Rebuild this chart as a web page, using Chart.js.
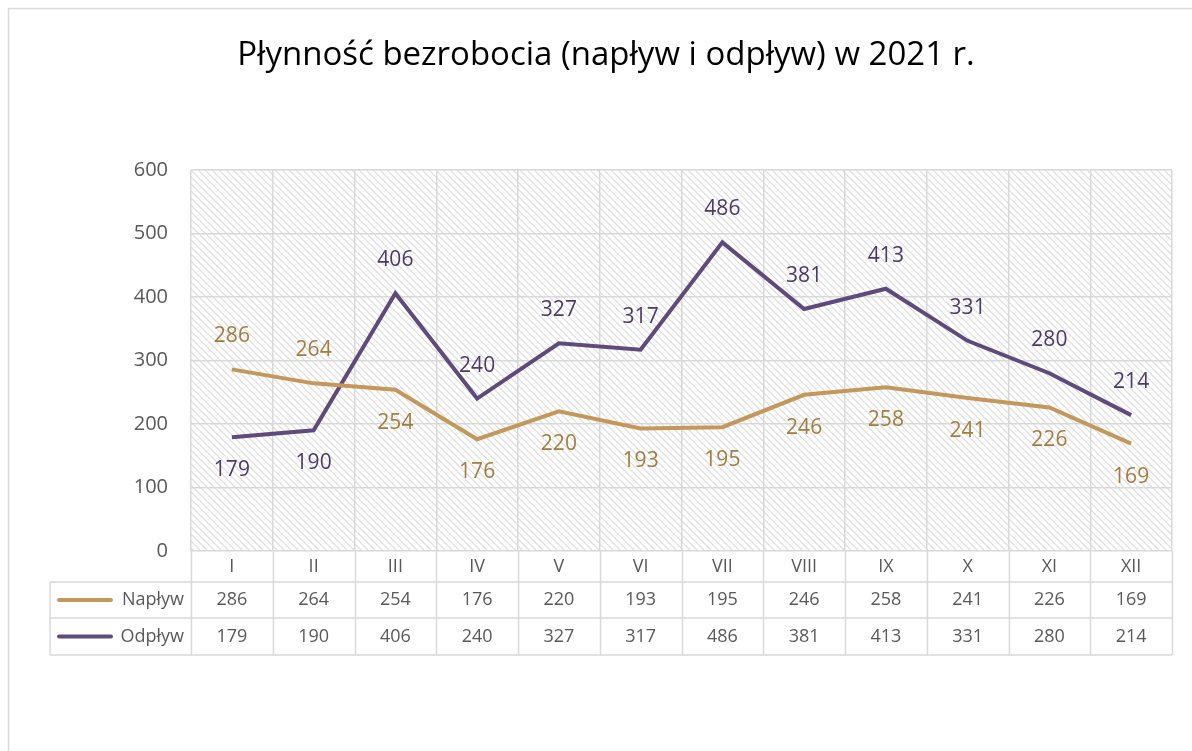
<!DOCTYPE html>
<html>
<head>
<meta charset="utf-8">
<script src="https://cdn.jsdelivr.net/npm/chart.js@4/dist/chart.umd.min.js"></script>
<style>
  html, body { margin: 0; padding: 0; background: #fff; }
  #wrap { width: 1192px; height: 751px; }
</style>
</head>
<body>
<div id="wrap"><canvas id="myChart" width="1192" height="751"></canvas></div>
<script>
const months = ['I', 'II', 'III', 'IV', 'V', 'VI', 'VII', 'VIII', 'IX', 'X', 'XI', 'XII'];
const naplyw = [286, 264, 254, 176, 220, 193, 195, 246, 258, 241, 226, 169];
const odplyw = [179, 190, 406, 240, 327, 317, 486, 381, 413, 331, 280, 214];
// where the value label sits: 1 = above the line, -1 = below
const naplywPos = [1, 1, -1, -1, -1, -1, -1, -1, -1, -1, -1, -1];
const odplywPos = [-1, -1, 1, 1, 1, 1, 1, 1, 1, 1, 1, 1];
const yTicks = [0, 100, 200, 300, 400, 500, 600];
const titleText = 'Płynność bezrobocia (napływ i odpływ) w 2021 r.';

const FONT = "'Open Sans', 'Noto Sans', sans-serif";
const gridColor = '#d9d9d9';
const textColor = '#595959';
const colN = '#c4985a', colO = '#5f4a7b';
const lblN = '#a57c3f', lblO = '#4c3a68';

// hatch pattern for the plot area
let hatch = (ctx) => {
    let c = document.createElement('canvas');
    c.width = 7; c.height = 7;
    let p = c.getContext('2d');
    p.fillStyle = '#fff';
    p.fillRect(0, 0, 7, 7);
    p.strokeStyle = '#dcdcdc';
    p.lineWidth = 1.2;
    p.beginPath();
    p.moveTo(-1, -1); p.lineTo(8, 8);
    p.moveTo(-1, 6); p.lineTo(1, 8);
    p.moveTo(6, -1); p.lineTo(8, 1);
    p.stroke();
    return ctx.createPattern(c, 'repeat');
};

let drawLabels = (chart) => {
    const ctx = chart.ctx;
    const xs = chart.scales.x, ys = chart.scales.y;
    ctx.save();
    ctx.font = '21px ' + FONT;
    ctx.textAlign = 'center';
    ctx.textBaseline = 'middle';
    const sets = [[naplyw, naplywPos, lblN], [odplyw, odplywPos, lblO]];
    for (const s of sets) {
        ctx.fillStyle = s[2];
        for (let i = 0; i < s[0].length; i++) {
            ctx.fillText(String(s[0][i]), xs.getPixelForValue(i), ys.getPixelForValue(s[0][i]) - s[1][i] * 33);
        }
    }
    ctx.restore();
};

const decor = {
    id: 'decor',
    beforeDraw(chart) {
        const ctx = chart.ctx, a = chart.chartArea;
        ctx.save();
        ctx.fillStyle = '#fff';
        ctx.fillRect(0, 0, chart.width, chart.height);
        ctx.strokeStyle = gridColor;
        ctx.lineWidth = 1.5;
        ctx.strokeRect(8.5, 8.5, 1200, 800);
        ctx.fillStyle = hatch(ctx);
        ctx.fillRect(a.left, a.top, a.right - a.left, a.bottom - a.top);
        // title
        ctx.fillStyle = '#000';
        ctx.font = '33px ' + FONT;
        ctx.textAlign = 'center';
        ctx.textBaseline = 'middle';
        ctx.fillText(titleText, 606, 56);
        ctx.restore();
    },
    afterDraw(chart) {
        const ctx = chart.ctx, a = chart.chartArea, x = chart.scales.x;
        const half = (x.getPixelForValue(1) - x.getPixelForValue(0)) / 2;
        const r0 = a.bottom, r1 = a.bottom + 31, r2 = r1 + 36, r3 = r2 + 37;
        const tLeft = 50;
        ctx.save();
        ctx.strokeStyle = gridColor;
        ctx.lineWidth = 1.5;
        ctx.beginPath();
        for (let i = 0; i <= months.length; i++) {
            let px = Math.round(x.getPixelForValue(i) - half) + 0.5;
            ctx.moveTo(px, r0); ctx.lineTo(px, r3);
        }
        [r1, r2, r3].forEach(r => { ctx.moveTo(tLeft, r); ctx.lineTo(a.right, r); });
        ctx.moveTo(tLeft, r1); ctx.lineTo(tLeft, r3);
        ctx.stroke();

        ctx.font = '18px ' + FONT;
        ctx.textBaseline = 'middle';
        const rows = [[naplyw, colN, 'Napływ', (r1 + r2) / 2], [odplyw, colO, 'Odpływ', (r2 + r3) / 2]];
        rows.forEach(([vals, col, name, cy]) => {
            ctx.strokeStyle = col;
            ctx.lineWidth = 4;
            ctx.lineCap = 'round';
            ctx.beginPath();
            ctx.moveTo(59, cy); ctx.lineTo(111, cy);
            ctx.stroke();
            ctx.fillStyle = textColor;
            ctx.textAlign = 'right';
            ctx.fillText(name, a.left - 7, cy);
            ctx.textAlign = 'center';
            vals.forEach((v, i) => ctx.fillText(String(v), x.getPixelForValue(i), cy));
        });
        ctx.restore();
        drawLabels(chart);
    }
};

const data = {
    labels: months,
    datasets: [
        { label: 'Napływ', data: naplyw, borderColor: colN, borderWidth: 4, pointRadius: 0, tension: 0 },
        { label: 'Odpływ', data: odplyw, borderColor: colO, borderWidth: 4, pointRadius: 0, tension: 0 }
    ]
};

const config = {
    type: 'line',
    data,
    options: {
        responsive: false,
        animation: false,
        layout: { padding: { top: 170, right: 20, bottom: 160, left: 110 } },
        plugins: { legend: { display: false }, title: { display: false }, tooltip: { enabled: false } },
        scales: {
            x: {
                offset: true,
                grid: { offset: true, color: gridColor, lineWidth: 1.5, drawTicks: false },
                border: { display: false },
                ticks: { color: textColor, font: { family: FONT, size: 18 }, padding: 5, maxRotation: 0 },
                afterFit: (s) => { s.height = 40; }
            },
            y: {
                min: 0, max: 600,
                grid: { color: gridColor, lineWidth: 1.5, drawTicks: false },
                border: { display: false },
                afterBuildTicks: (s) => { s.ticks = yTicks.map(v => ({ value: v })); },
                ticks: { color: textColor, font: { family: FONT, size: 20 }, padding: 23 },
                afterFit: (s) => { s.width = 81; }
            }
        }
    },
    plugins: [decor]
};

let myChart = new Chart(document.getElementById('myChart'), config);
</script>
</body>
</html>
